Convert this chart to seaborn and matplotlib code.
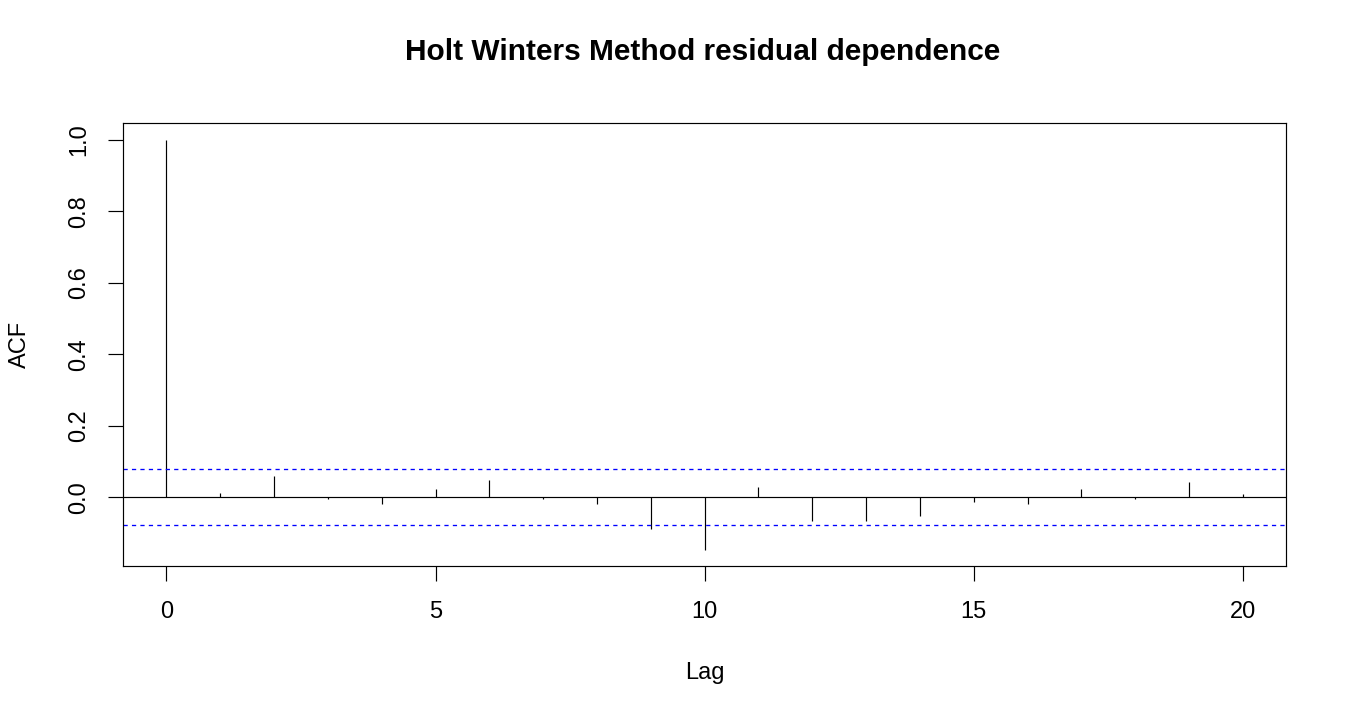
import numpy as np
import matplotlib
matplotlib.use("Agg")
import matplotlib.pyplot as plt
import seaborn as sns

# acf of the Holt Winters residuals
lags = list(range(0, 21))
acf = [1.0, 0.012, 0.060, -0.005, -0.019, 0.023, 0.048, -0.006, -0.019, -0.088,
       -0.146, 0.029, -0.065, -0.065, -0.052, -0.013, -0.019, 0.023, -0.005, 0.043, 0.009]
ci = 0.078

xticks = [0, 5, 10, 15, 20]
yticks = [0.0, 0.2, 0.4, 0.6, 0.8, 1.0]

sns.set_style("ticks")
plt.rcParams["font.family"] = ["Liberation Sans", "DejaVu Sans"]
plt.rcParams["text.color"] = "black"
plt.rcParams["axes.labelcolor"] = "black"

fig = plt.figure(figsize=(13.5, 7.2), dpi=100)
ax = fig.add_axes([123.3 / 1350, 154 / 720, (1286 - 123.3) / 1350, (566 - 123.3) / 720])

ax.vlines(lags, 0, acf, color="black", linewidth=0.85)
ax.axhline(0, color="black", linewidth=0.85)
for h in (ci, -ci):
    ax.axhline(h, color="blue", linewidth=0.95, linestyle=(0, (3.2, 3.2)))

ax.set_xlim(-0.8, 20.8)
ax.set_ylim(-0.192, 1.046)
ax.set_xticks(xticks)
ax.set_yticks(yticks)
ax.set_xticklabels([str(t) for t in xticks])
ax.set_yticklabels([f"{t:.1f}" for t in yticks], rotation=90, va="center")

for s in ax.spines.values():
    s.set_linewidth(0.85)
    s.set_color("black")
ax.tick_params(axis="both", direction="out", length=11, width=0.85, color="black",
               labelsize=17, labelcolor="black")
ax.tick_params(axis="x", pad=14)
ax.tick_params(axis="y", pad=13)

ax.set_xlabel("Lag", fontsize=17, color="black")
ax.set_ylabel("ACF", fontsize=17, color="black")
ax.xaxis.label.set_va("center")
ax.yaxis.label.set_va("center")
ax.xaxis.set_label_coords(0.5, (566 - 673) / (566 - 123.3))
ax.yaxis.set_label_coords((20 - 123.3) / (1286 - 123.3), 0.5)

fig.text(703 / 1350, 1 - 52 / 720, "Holt Winters Method residual dependence",
         fontsize=21.5, fontweight="bold", ha="center", va="center", color="black")

fig.savefig("out.png", dpi=100, facecolor="white")
